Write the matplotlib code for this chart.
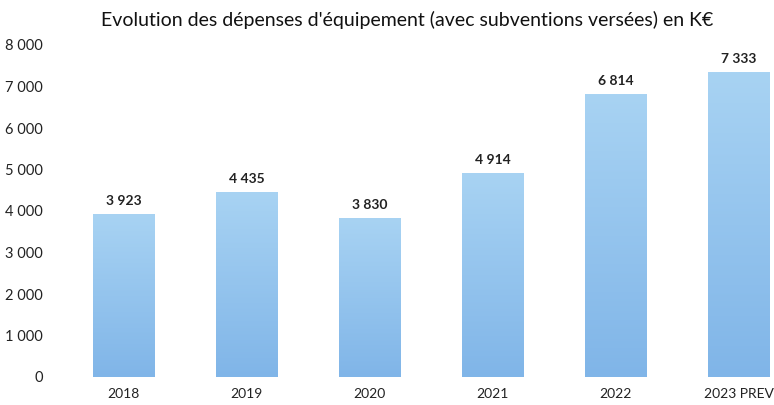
import matplotlib
matplotlib.use("Agg")
import matplotlib.pyplot as plt
import numpy as np
from matplotlib.colors import LinearSegmentedColormap

categories = ["2018", "2019", "2020", "2021", "2022", "2023 PREV"]
values = [3923, 4435, 3830, 4914, 6814, 7333]
value_labels = ["3 923", "4 435", "3 830", "4 914", "6 814", "7 333"]
yticks = [0, 1000, 2000, 3000, 4000, 5000, 6000, 7000, 8000]
ytick_labels = ["0", "1 000", "2 000", "3 000", "4 000", "5 000", "6 000", "7 000", "8 000"]
title = "Evolution des dépenses d'équipement (avec subventions versées) en K€"

plt.rcParams['font.family'] = ['Lato', 'DejaVu Sans']

fig = plt.figure(figsize=(7.74, 4.05), dpi=100)
ax = fig.add_axes([62/774, 28/405, 738/774, 332/405])

x = np.arange(len(categories))
bars = ax.bar(x, values, width=0.5, color="none", edgecolor="none")
cmap = LinearSegmentedColormap.from_list("g", ["#80b5e8", "#a8d3f3"])
grad = np.linspace(0, 1, 256).reshape(-1, 1)
for b in bars:
    x0, w, h = b.get_x(), b.get_width(), b.get_height()
    ax.imshow(grad, cmap=cmap, origin="lower", aspect="auto",
              extent=[x0, x0 + w, 0, h], zorder=2)

for xi, v, lab in zip(x, values, value_labels):
    ax.text(xi, v + 180, lab, ha="center", va="bottom", fontsize=10,
            fontweight="bold", color="#222222")

ax.set_xlim(-0.5, len(categories) - 0.5)
ax.set_ylim(0, 8000)
ax.set_yticks(yticks)
ax.set_yticklabels(ytick_labels)
ax.set_xticks(x)
ax.set_xticklabels(categories)
ax.tick_params(axis="both", length=0, labelsize=10.5, colors="#222222")
ax.tick_params(axis="x", labelsize=10)
ax.tick_params(axis="y", pad=14)
ax.tick_params(axis="x", pad=8)
for s in ax.spines.values():
    s.set_visible(False)

fig.text(407/774, 1 - 20/405, title, ha="center", va="center", fontsize=14, color="#111111")

fig.savefig("out.png", dpi=100)
